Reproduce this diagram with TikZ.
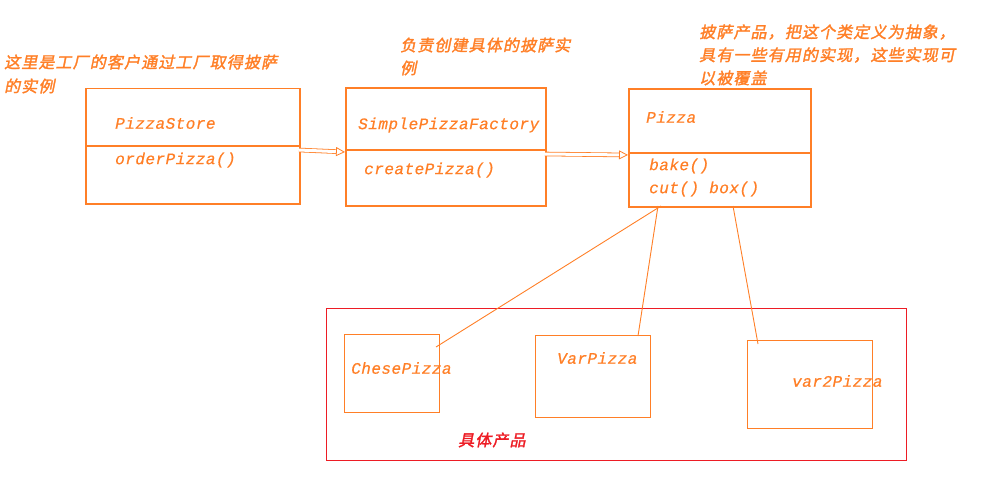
\documentclass[tikz,border=0pt]{standalone}
\usepackage{fontspec}
\usetikzlibrary{arrows.meta}
\newfontfamily\monoit[LetterSpace=3,FakeBold=0.6,ItalicFont={Liberation Mono Italic}]{Liberation Mono}
\newfontfamily\cjk[FakeSlant=0.2,FakeBold=1.8,LetterSpace=7]{Noto Sans CJK SC}
\definecolor{po}{HTML}{FF7F27}
\definecolor{pr}{HTML}{ED1C24}
\tikzset{
  box/.style={draw=po, line width=1.5pt, anchor=north west, inner sep=0pt},
  cls/.style={text=po, font=\monoit\itshape\fontsize{16}{18}\selectfont, anchor=west, inner sep=0pt},
  note/.style={text=po, font=\cjk\fontsize{16}{18}\selectfont, anchor=west, inner sep=0pt},
  link/.style={draw=po, line width=0.9pt},
  dep/.style={draw=po, line width=0.8pt, double=white, double distance=3pt, -{Triangle[open,length=9pt,width=9pt]}}
}
\begin{document}
\begin{tikzpicture}[x=1pt,y=-1pt]
\useasboundingbox (0,0) rectangle (984,484);
% class boxes
\node[box, minimum width=214pt, minimum height=115pt] (ps) at (85,88) {};
\draw[po, line width=1.5pt] (85,146) -- (299,146);
\node[box, line width=1.8pt, minimum width=200pt, minimum height=118pt] (spf) at (345,87) {};
\draw[po, line width=1.5pt] (345,150) -- (545,150);
\node[box, line width=1.8pt, minimum width=182pt, minimum height=118pt] (pz) at (628,88) {};
\draw[po, line width=1.5pt] (628,153) -- (810,153);
% class texts
\node[cls] (t1) at (115,123) {PizzaStore};
\node[cls] (t2) at (115,160) {orderPizza()};
\node[cls] (t3) at (358,125) {SimplePizzaFactory};
\node[cls] (t4) at (364,170) {createPizza()};
\node[cls] (t5) at (646,117) {Pizza};
\node[cls] (t6) at (649,166) {bake()};
\node[cls] (t7) at (649,189) {cut() box()};
% dependency arrows
\coordinate (a1s) at (299,150);
\coordinate (a1e) at (345,152);
\coordinate (a2s) at (545,154);
\coordinate (a2e) at (628,155);
\draw[dep] (a1s) -- (a1e);
\draw[dep] (a2s) -- (a2e);
% concrete products frame
\node[draw=pr, line width=1.3pt, anchor=north west, minimum width=580pt, minimum height=152pt, inner sep=0pt] (frame) at (326,308) {};
\node[box, line width=1.3pt, minimum width=95pt, minimum height=78pt] (cp) at (344,334) {};
\node[box, line width=1.3pt, minimum width=115pt, minimum height=82pt] (vp) at (535,335) {};
\node[box, line width=1.3pt, minimum width=125pt, minimum height=88pt] (v2) at (747,340) {};
\node[cls] (t8) at (351,368) {ChesePizza};
\node[cls] (t9) at (557,358) {VarPizza};
\node[cls] (t10) at (792,381) {var2Pizza};
\node[note, text=pr] (t11) at (458,440) {具体产品};
% links from Pizza to products
\coordinate (p1) at (661,206);
\coordinate (p2) at (658,206);
\coordinate (p3) at (733,206);
\coordinate (c1) at (436,347);
\coordinate (c2) at (638,336);
\coordinate (c3) at (758,344);
\draw[link] (p1) -- (c1);
\draw[link] (p2) -- (c2);
\draw[link] (p3) -- (c3);
% notes
\node[note] (n1) at (4,62) {这里是工厂的客户通过工厂取得披萨};
\node[note] (n2) at (4,86) {的实例};
\node[note] (n3) at (400,45) {负责创建具体的披萨实};
\node[note] (n4) at (400,68) {例};
\node[note] (n5) at (699,32) {披萨产品，把这个类定义为抽象，};
\node[note] (n6) at (699,55) {具有一些有用的实现，这些实现可};
\node[note] (n7) at (699,78) {以被覆盖};
\end{tikzpicture}
\end{document}
